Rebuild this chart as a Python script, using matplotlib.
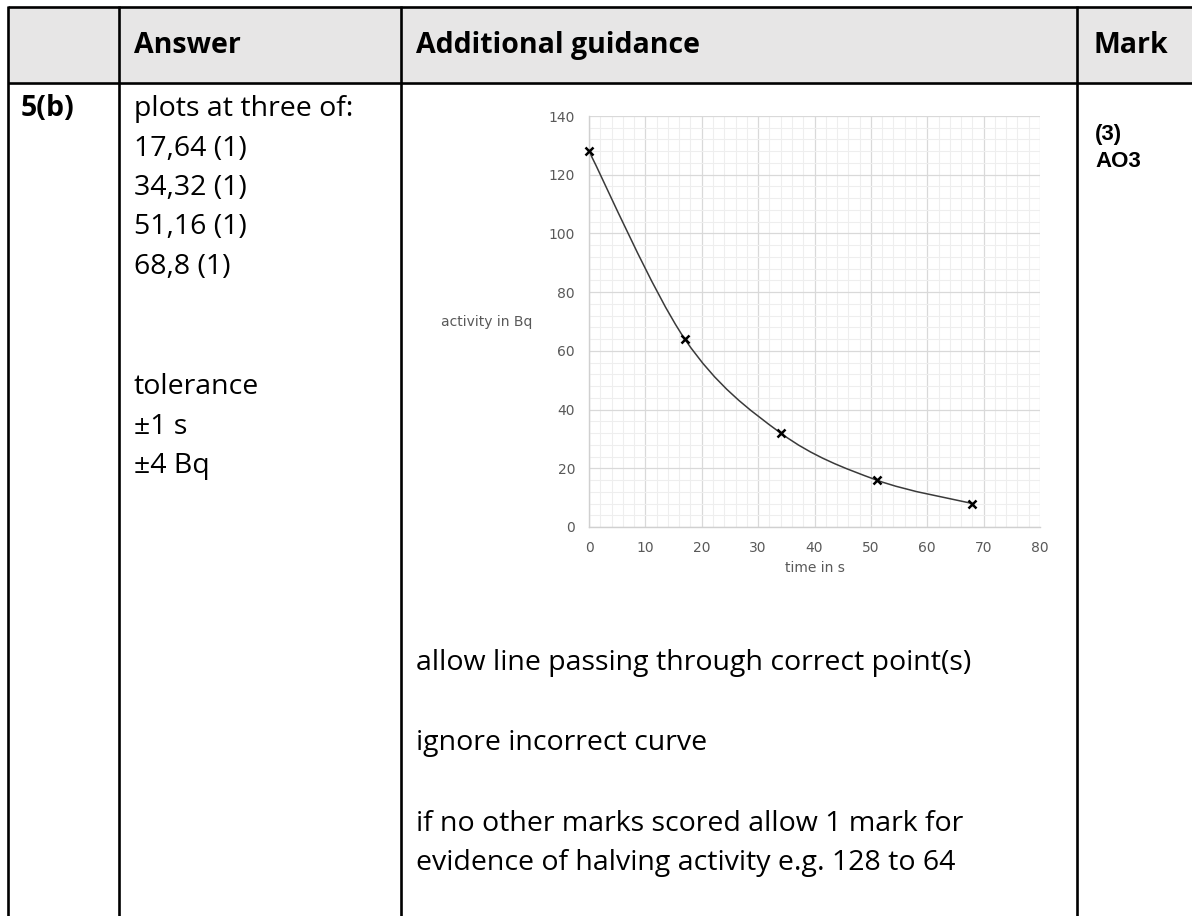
import matplotlib
matplotlib.use("Agg")
import matplotlib.pyplot as plt
from matplotlib.path import Path
from matplotlib.patches import PathPatch, Rectangle
from matplotlib.ticker import MultipleLocator
import numpy as np

# data
time_s = [0, 17, 34, 51, 68]
activity_bq = [128, 64, 32, 16, 8]

x_ticks = [0, 10, 20, 30, 40, 50, 60, 70, 80]
y_ticks = [0, 20, 40, 60, 80, 100, 120, 140]

headers = ["Answer", "Additional guidance", "Mark"]
answer_lines = ["plots at three of:", "17,64 (1)", "34,32 (1)", "51,16 (1)", "68,8 (1)"]
tolerance_lines = ["tolerance", "\u00b11 s", "\u00b14 Bq"]
guidance_lines = ["allow line passing through correct point(s)",
                  "ignore incorrect curve",
                  "if no other marks scored allow 1 mark for",
                  "evidence of halving activity e.g. 128 to 64"]

W, H = 1192, 916
fig = plt.figure(figsize=(W / 100, H / 100), dpi=100)
fig.patch.set_facecolor("white")

# table drawn in pixel coordinates
tab = fig.add_axes([0, 0, 1, 1])
tab.set_xlim(0, W)
tab.set_ylim(H, 0)
tab.axis("off")

tab.add_patch(Rectangle((8, 7), W - 8, 75, facecolor="#e7e6e6", edgecolor="none"))
lw = 1.9
tab.plot([8, W], [7, 7], color="black", lw=lw, solid_capstyle="butt")
tab.plot([8, W], [82.5, 82.5], color="black", lw=lw, solid_capstyle="butt")
for xc in [8, 119, 401, 1077]:
    tab.plot([xc, xc], [6, H], color="black", lw=lw, solid_capstyle="butt")

body = dict(family="Open Sans", fontsize=20.5, color="black", va="baseline", ha="left")
bold = dict(body, fontweight="bold")

tab.text(134, 53, headers[0], **bold)
tab.text(416, 53, headers[1], **bold)
tab.text(1094, 53, headers[2], **bold)
tab.text(21, 116, "5(b)", **bold)

for i, s in enumerate(answer_lines):
    tab.text(134, 116 + 39.5 * i, s, **body)
for i, s in enumerate(tolerance_lines):
    tab.text(134, 394 + 39.5 * i, s, **body)

guide_y = [670, 750, 831, 870]
for s, yy in zip(guidance_lines, guide_y):
    tab.text(416, yy, s, **body)

mark = dict(family="Liberation Sans", fontsize=16, fontweight="bold",
            color="black", va="baseline", ha="left")
tab.text(1095, 140, "(3)", **mark)
tab.text(1095, 167, "AO3", **mark)

# chart
ax = fig.add_axes([589 / W, 1 - 527 / H, (1040 - 589) / W, (527 - 116) / H])
ax.set_xlim(0, 80)
ax.set_ylim(0, 140)
ax.xaxis.set_major_locator(MultipleLocator(10))
ax.xaxis.set_minor_locator(MultipleLocator(2))
ax.yaxis.set_major_locator(MultipleLocator(20))
ax.yaxis.set_minor_locator(MultipleLocator(4))
ax.grid(which="minor", color="#eeeeee", lw=0.8)
ax.grid(which="major", color="#d9d9d9", lw=0.9)
ax.set_axisbelow(True)
for side in ["top", "right"]:
    ax.spines[side].set_visible(False)
for side in ["left", "bottom"]:
    ax.spines[side].set_color("#d0d0d0")
    ax.spines[side].set_linewidth(1.0)
ax.tick_params(which="both", length=0)
ax.tick_params(axis="both", labelsize=10, labelcolor="#595959", pad=10)
ax.set_xticks(x_ticks)
ax.set_yticks(y_ticks)

# smooth line through the points (Catmull-Rom style, like a spreadsheet smoothed line)
pts = np.column_stack([time_s, activity_bq]).astype(float)
verts = [tuple(pts[0])]
codes = [Path.MOVETO]
n = len(pts)
for i in range(n - 1):
    p0 = pts[i - 1] if i > 0 else pts[i]
    p1 = pts[i]
    p2 = pts[i + 1]
    p3 = pts[i + 2] if i + 2 < n else pts[i + 1]
    c1 = p1 + (p2 - p0) / 6.0
    c2 = p2 - (p3 - p1) / 6.0
    verts += [tuple(c1), tuple(c2), tuple(p2)]
    codes += [Path.CURVE4] * 3
ax.add_patch(PathPatch(Path(verts, codes), facecolor="none", edgecolor="#3a3a3a",
                       lw=1.1, clip_on=False))

ax.plot(time_s, activity_bq, linestyle="none", marker="x", markersize=5.5,
        markeredgewidth=1.8, color="black", clip_on=False, zorder=5)

fig.text(815 / W, 1 - 568 / H, "time in s", ha="center", va="center",
         fontsize=10, color="#595959")
fig.text(487 / W, 1 - 322 / H, "activity in Bq", ha="center", va="center",
         fontsize=10, color="#595959")

fig.savefig("out.png", dpi=100, facecolor="white")
